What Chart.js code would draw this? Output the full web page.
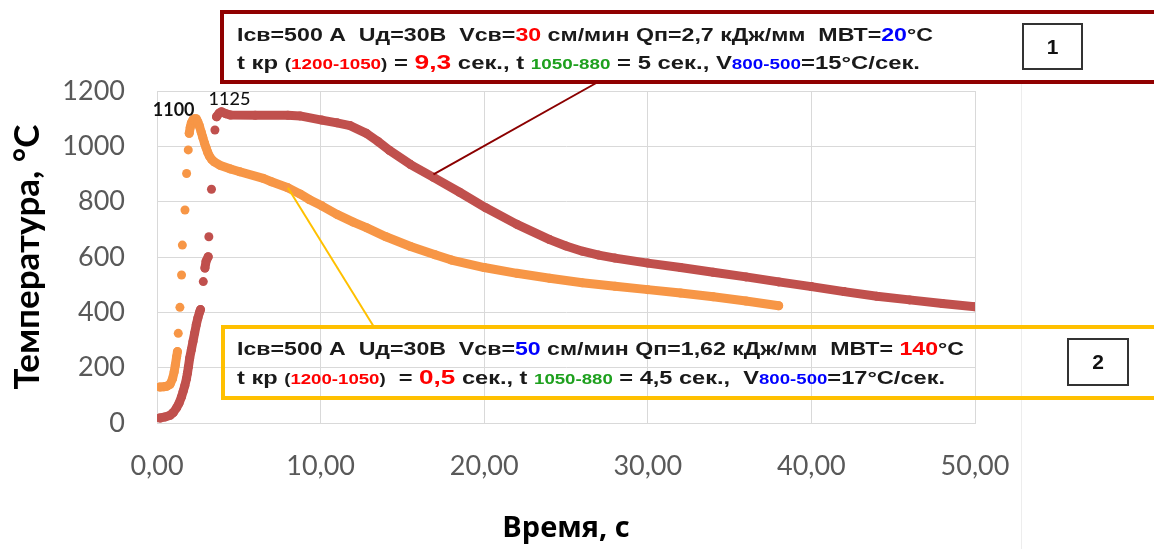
<!DOCTYPE html>
<html><head><meta charset="utf-8">
<script src="https://cdn.jsdelivr.net/npm/chart.js@4.4.0/dist/chart.umd.min.js"></script>
<style>
html,body{margin:0;padding:0;background:#fff;overflow:hidden}
#wrap{position:relative;width:1154px;height:549px;overflow:hidden}
#c{position:absolute;left:0;top:0}
.box{position:absolute;box-sizing:border-box}
.ln{position:absolute;left:237px;white-space:nowrap;font-family:"Liberation Sans",Arial,sans-serif;font-weight:bold;font-size:19px;line-height:20px;color:#1a1a1a;transform-origin:0 50%}
.r{color:#FF0000}.b{color:#0000FF}.g{color:#1EA01E}
.s{font-size:15px}.L{font-size:21px}
.num{position:absolute;box-sizing:border-box;border:2px solid #333;font-family:"Liberation Sans",Arial,sans-serif;font-weight:bold;font-size:21px;color:#111;display:flex;align-items:center;justify-content:center}
</style>
</head><body>
<div id="wrap">
<canvas id="c" width="1154" height="549"></canvas>
<div class="box" style="left:220px;top:10px;width:1000px;height:74px;border:4px solid #900000"></div>
<div class="ln" data-w="696" style="top:25px">Iсв=500 А&nbsp; Uд=30В&nbsp; Vсв=<span class="r">30</span> см/мин Qп=2,7 кДж/мм&nbsp; МВТ=<span class="b">20</span>°С</div>
<div class="ln" data-w="683" style="top:52px">t кр <span class="s">(<span class="r">1200-1050</span>)</span> = <span class="r L">9,3</span> сек., t <span class="s g">1050-880</span> = 5 сек., V<span class="s b">800-500</span>=15°С/сек.</div>
<div class="num" style="left:1022px;top:23px;width:61px;height:47px">1</div>
<div class="box" style="left:221px;top:325px;width:1000px;height:75px;border:4px solid #FFC000"></div>
<div class="ln" data-w="727" style="top:339px">Iсв=500 А&nbsp; Uд=30В&nbsp; Vсв=<span class="b">50</span> см/мин Qп=1,62 кДж/мм&nbsp; МВТ= <span class="r">140</span>°С</div>
<div class="ln" data-w="708" style="top:367px">t кр <span class="s">(<span class="r">1200-1050</span>)</span>&nbsp; = <span class="r L">0,5</span> сек., t <span class="s g">1050-880</span> = 4,5 сек.,&nbsp; V<span class="s b">800-500</span>=17°С/сек.</div>
<div class="num" style="left:1067px;top:338px;width:62px;height:48px">2</div>
</div>
<script>
// ---- data ----
const timeRed = [0.18,0.5,0.8,1.0,1.2,1.35,1.5,1.6,1.7,1.8,1.86,1.92,2.0,2.1,2.2,2.3,2.4,2.5,2.6,2.66,2.83,2.93,3.0,3.13,3.17,3.33,3.54,3.64,3.8,3.94,4.2,4.5,6,8,8.74,10.07,11,11.8,12.8,13.5,14.2,15.5,16.9,18.5,20.1,22,24,25,26,27,28,30,32,34,36,38,40,42,44,46,48,50];
const tempRed = [18,22,28,38,55,72,95,115,135,160,180,203,235,265,295,325,355,380,400,410,511,560,585,601,673,845,1059,1107,1120,1125,1118,1113,1112,1112,1110,1095,1085,1075,1047,1018,986,934,888,834,778,718,663,640,621,607,596,578,562,545,528,510,493,475,458,445,432,420];
const timeOrange = [0.18,0.4,0.6,0.8,0.95,1.05,1.12,1.2,1.25,1.3,1.4,1.5,1.55,1.71,1.81,1.91,1.97,2.03,2.1,2.2,2.3,2.4,2.5,2.6,2.7,2.8,2.9,3.0,3.1,3.2,3.35,3.5,3.84,4.5,5.06,6.5,7.0,8.0,8.74,9.3,10.07,11,12,12.8,14,15.5,17,18,20,22,24,26,28,30,32,34,36,38];
const tempOrange = [130,131,133,140,160,185,210,240,258,324,418,535,643,770,902,987,1047,1068,1085,1096,1100,1100,1088,1072,1052,1032,1012,995,978,965,952,944,932,918,908,884,872,850,828,808,785,754,726,706,673,638,608,589,562,541,523,507,494,482,470,456,441,424];
const xTicks = [0,10,20,30,40,50];
const yTicks = [0,200,400,600,800,1000,1200];
const peakLabels = ['1125','1100'];
const xTitle = 'Время, с';
const yTitle = 'Температура, °С';

// stretch annotation lines to the widths seen in the reference
document.querySelectorAll('.ln').forEach(el => {
  const w = el.getBoundingClientRect().width;
  el.style.transform = 'scaleX(' + (parseFloat(el.dataset.w) / w) + ')';
});

const RED = '#C0504D', ORANGE = '#F79646';
const pts = (ts, vs) => ts.map((t, i) => ({x: t, y: vs[i]}));
const seg = c => ctx => {
  const dx = Math.abs(ctx.p1.x - ctx.p0.x), dy = Math.abs(ctx.p1.y - ctx.p0.y);
  return (dy > 9.5 && dy > 2 * dx) ? 'rgba(0,0,0,0)' : c;
};

const overlay = {
  id: 'overlay',
  beforeDatasetsDraw(chart) {
    const {ctx} = chart;
    ctx.save();
    ctx.strokeStyle = '#EDEDED'; ctx.lineWidth = 1;
    ctx.beginPath(); ctx.moveTo(1021.5, 84); ctx.lineTo(1021.5, 549); ctx.stroke();
    ctx.restore();
  },
  afterDatasetsDraw(chart) {
    const {ctx, scales: {x, y}} = chart;
    ctx.save();
    const ri = timeRed.indexOf(16.9);
    ctx.strokeStyle = '#8B0000'; ctx.lineWidth = 2;
    ctx.beginPath(); ctx.moveTo(x.getPixelForValue(timeRed[ri]), y.getPixelForValue(tempRed[ri]) - 3); ctx.lineTo(598, 82); ctx.stroke();
    const oi = timeOrange.indexOf(8.0);
    ctx.strokeStyle = '#FFC000'; ctx.lineWidth = 2;
    ctx.beginPath(); ctx.moveTo(x.getPixelForValue(timeOrange[oi]), y.getPixelForValue(tempOrange[oi])); ctx.lineTo(374, 327); ctx.stroke();
    ctx.fillStyle = '#111'; ctx.textAlign = 'center'; ctx.textBaseline = 'middle';
    const series = [[timeRed, tempRed, 8, -13, '500'], [timeOrange, tempOrange, -21, -8, 'bold']];
    series.forEach((s, k) => {
      const m = s[1].indexOf(Math.max(...s[1]));
      ctx.font = s[4] + ' 18px Lato';
      ctx.fillText(peakLabels[k], x.getPixelForValue(s[0][m]) + s[2], y.getPixelForValue(s[1][m]) + s[3]);
    });
    ctx.restore();
  }
};

new Chart(document.getElementById('c'), {
  type: 'scatter',
  data: {datasets: [
    {label: '1', data: pts(timeRed, tempRed), order: 1, showLine: true, borderColor: RED, backgroundColor: RED,
     borderWidth: 9, borderCapStyle: 'round', borderJoinStyle: 'round', pointRadius: 4.5, pointBorderWidth: 0, pointBackgroundColor: RED,
     segment: {borderColor: seg(RED)}},
    {label: '2', data: pts(timeOrange, tempOrange), order: 0, showLine: true, borderColor: ORANGE, backgroundColor: ORANGE,
     borderWidth: 9, borderCapStyle: 'round', borderJoinStyle: 'round', pointRadius: 4.5, pointBorderWidth: 0, pointBackgroundColor: ORANGE,
     segment: {borderColor: seg(ORANGE)}}
  ]},
  options: {
    responsive: false, animation: false, devicePixelRatio: 1,
    layout: {padding: {top: 91, right: 179, left: 0, bottom: 0}},
    plugins: {legend: {display: false}, tooltip: {enabled: false}},
    scales: {
      x: {type: 'linear', min: 0, max: 50,
        afterBuildTicks: s => { s.ticks = xTicks.map(v => ({value: v})); },
        afterFit: s => { s.height = 126; },
        grid: {color: '#D9D9D9', drawTicks: false}, border: {color: '#D9D9D9'},
        ticks: {font: {family: 'Lato', size: 27}, color: '#595959', padding: 27, maxRotation: 0,
          callback: v => v.toFixed(2).replace('.', ',')},
        title: {display: true, text: xTitle, color: '#000', font: {family: 'Open Sans', size: 29, weight: 'bold'}, padding: {top: 0, bottom: 3}}
      },
      y: {min: 0, max: 1200,
        afterBuildTicks: s => { s.ticks = yTicks.map(v => ({value: v})); },
        afterFit: s => { s.width = 157; },
        grid: {color: '#D9D9D9', drawTicks: false}, border: {color: '#D9D9D9'},
        ticks: {font: {family: 'Lato', size: 27}, color: '#595959', padding: 32, callback: v => String(v)},
        title: {display: true, text: yTitle, color: '#000', font: {family: 'Lato', size: 35, weight: 'bold'}, padding: {top: 7, bottom: 0}}
      }
    }
  },
  plugins: [overlay]
});
</script>
</body></html>
